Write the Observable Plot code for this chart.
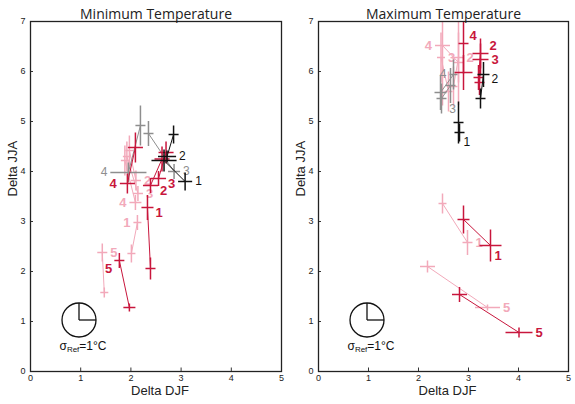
<!DOCTYPE html>
<html>
<head>
<meta charset="utf-8">
<script src="https://cdn.jsdelivr.net/npm/d3@7"></script>
<script src="https://cdn.jsdelivr.net/npm/@observablehq/plot@0.6"></script>
<style>
  body { margin: 0; background: #fff; }
  #wrap { position: relative; width: 575px; height: 404px; }
  #wrap svg { position: absolute; top: 0; }
</style>
</head>
<body>
<div id="wrap"></div>
<script>
// Axis ticks
const xTicks = [0, 1, 2, 3, 4, 5];
const yTicks = [0, 1, 2, 3, 4, 5, 6, 7];

// Each row: [region,
//   labelled end: DJF change, JJA change, DJF spread, JJA spread,
//   other end:    DJF change, JJA change, DJF spread, JJA spread]

// Minimum temperature
const tminPink = [
  [1, 2.13, 2.98, 0.08, 0.15, 2.01, 2.36, 0.08, 0.18],
  [2, 2.10, 3.82, 0.10, 0.20, 1.97, 4.42, 0.08, 0.30],
  [3, 2.14, 3.56, 0.10, 0.15, 1.92, 4.30, 0.08, 0.30],
  [4, 2.09, 3.38, 0.12, 0.15, 1.88, 4.22, 0.08, 0.30],
  [5, 1.43, 2.38, 0.10, 0.18, 1.47, 1.58, 0.08, 0.10]
];
const tminGray = [
  [3, 2.86, 4.00, 0.12, 0.15, 2.35, 4.76, 0.10, 0.25],
  [4, 1.95, 3.98, 0.36, 0.20, 2.19, 4.92, 0.10, 0.40]
];
const tminRed = [
  [1, 2.33, 3.28, 0.12, 0.25, 2.39, 2.06, 0.10, 0.22],
  [2, 2.39, 3.72, 0.15, 0.15, 2.62, 4.25, 0.15, 0.25],
  [3, 2.55, 3.86, 0.15, 0.15, 2.70, 4.38, 0.15, 0.22],
  [4, 1.93, 3.76, 0.15, 0.20, 2.09, 4.48, 0.15, 0.30],
  [5, 1.77, 2.22, 0.10, 0.15, 1.97, 1.28, 0.12, 0.08]
];
const tminBlack = [
  [1, 3.08, 3.80, 0.14, 0.18, 2.66, 4.22, 0.25, 0.22],
  [2, 2.72, 4.30, 0.18, 0.12, 2.85, 4.74, 0.10, 0.18]
];

// Maximum temperature
const tmaxPink = [
  [1, 2.98, 2.58, 0.10, 0.25, 2.48, 3.36, 0.08, 0.20],
  [2, 2.80, 6.28, 0.10, 0.50, 2.70, 5.70, 0.08, 0.40],
  [3, 2.45, 6.28, 0.08, 0.50, 2.60, 5.60, 0.08, 0.40],
  [4, 2.48, 6.52, 0.15, 1.20, 2.80, 6.18, 0.10, 0.85],
  [5, 3.38, 1.28, 0.25, 0.06, 2.18, 2.10, 0.15, 0.12]
];
const tmaxGray = [
  [3, 2.64, 5.72, 0.10, 0.35, 2.46, 5.46, 0.10, 0.30],
  [4, 2.70, 5.94, 0.08, 0.30, 2.44, 5.58, 0.12, 0.35]
];
const tmaxRed = [
  [1, 3.44, 2.52, 0.22, 0.32, 2.90, 3.04, 0.12, 0.28],
  [2, 3.24, 6.36, 0.16, 0.30, 3.20, 5.88, 0.10, 0.25],
  [3, 3.24, 6.24, 0.16, 0.32, 3.22, 5.78, 0.10, 0.25],
  [4, 2.90, 6.56, 0.10, 0.60, 2.90, 5.98, 0.18, 0.35],
  [5, 4.01, 0.78, 0.27, 0.10, 2.82, 1.54, 0.15, 0.15]
];
const tmaxBlack = [
  [1, 2.82, 4.78, 0.10, 0.18, 2.80, 4.98, 0.10, 0.42],
  [2, 3.30, 5.94, 0.12, 0.25, 3.24, 5.46, 0.10, 0.20]
];

const colors = { pink: "#f2a9ba", gray: "#8e8e8e", red: "#c8163c", black: "#111111" };
const weights = { pink: "bold", gray: "normal", red: "bold", black: "normal" };
const sizes = { pink: 13, gray: 12, red: 13, black: 12 };
const drawOrder = ["pink", "gray", "red", "black"];

// Where each region number sits relative to its labelled cross
const place = {
  right:     { x: r => r[1] + r[3], dx: 3,  dy: 0,  textAnchor: "start" },
  rightLow:  { x: r => r[1] + r[3], dx: 2,  dy: 5,  textAnchor: "start" },
  left:      { x: r => r[1] - r[3], dx: -3, dy: 0,  textAnchor: "end" },
  leftDown:  { x: r => r[1] - r[3], dx: -2, dy: 8,  textAnchor: "end" },
  upRight:   { x: r => r[1] + r[3], dx: 1,  dy: -8, textAnchor: "start" },
  downRight: { x: r => r[1],        dx: 4,  dy: 10, textAnchor: "start" },
  below:     { x: r => r[1], y: r => r[2] - r[4], dx: 2, dy: 6, textAnchor: "middle" }
};

function crosses(rows, color) {
  const ends = rows.flatMap(r => [
    { x: r[1], y: r[2], ex: r[3], ey: r[4] },
    { x: r[5], y: r[6], ex: r[7], ey: r[8] }
  ]);
  return [
    Plot.link(rows, { x1: r => r[1], y1: r => r[2], x2: r => r[5], y2: r => r[6], stroke: color, strokeWidth: 1, clip: "frame" }),
    Plot.link(ends, { x1: d => d.x - d.ex, x2: d => d.x + d.ex, y1: "y", y2: "y", stroke: color, strokeWidth: 1.5, clip: "frame" }),
    Plot.link(ends, { x1: "x", x2: "x", y1: d => d.y - d.ey, y2: d => d.y + d.ey, stroke: color, strokeWidth: 1.5, clip: "frame" })
  ];
}

function labels(rows, key, sides, fallback) {
  const groups = d3.group(rows, r => sides[r[0]] || fallback);
  return Array.from(groups, ([side, rs]) => {
    const p = place[side];
    return Plot.text(rs, {
      x: p.x, y: p.y || (r => r[2]), text: r => String(r[0]),
      dx: p.dx, dy: p.dy, textAnchor: p.textAnchor,
      fill: colors[key], fontWeight: weights[key], fontSize: sizes[key],
      fontFamily: "Liberation Sans, Arial, sans-serif"
    });
  });
}

function panel(title, sets, sides, fallbacks, marginLeft, marginRight) {
  const marks = [];
  for (const key of drawOrder) {
    marks.push(...crosses(sets[key], colors[key]));
    marks.push(...labels(sets[key], key, sides[key] || {}, fallbacks[key] || "right"));
  }
  const svg = Plot.plot({
    width: 287,
    height: 404,
    marginLeft, marginRight,
    marginTop: 21,
    marginBottom: 33,
    x: { domain: [0, 5] },
    y: { domain: [0, 7] },
    style: { fontFamily: "Liberation Sans, Arial, sans-serif", fontSize: "9px", background: "#fff", color: "#222" },
    marks: [
      Plot.ruleX(xTicks.slice(1, -1), { x: d => d, y1: 0, y2: 0.07, stroke: "#333" }),
      Plot.ruleY(yTicks.slice(1, -1), { y: d => d, x1: 0, x2: 0.06, stroke: "#333" }),
      ...marks,
      Plot.frame({ stroke: "#222", strokeWidth: 1.3 }),
      Plot.axisX(xTicks, { tickSize: 0, tickPadding: 3, label: null, tickFormat: d3.format("d") }),
      Plot.axisY(yTicks, { tickSize: 0, tickPadding: 5, label: null, tickFormat: d3.format("d") }),
      Plot.text([title], { frameAnchor: "top", dy: -12, fontSize: 14, fontFamily: "Open Sans, sans-serif", fill: "#222" }),
      Plot.text(["Delta DJF"], { frameAnchor: "bottom", dx: 4, dy: 23.5, fontSize: 13, fill: "#222" }),
      Plot.text(["Delta JJA"], { frameAnchor: "left", dx: -18, rotate: -90, fontSize: 13, fill: "#222" })
    ]
  });

  // Reference spread symbol: a clock face with the 1 °C spread drawn as its hands
  const cx = marginLeft + 49, cy = 320, r = 17;
  const g = d3.select(svg).append("g").attr("stroke", "#111").attr("fill", "none").attr("stroke-width", 1.3);
  g.append("circle").attr("cx", cx).attr("cy", cy).attr("r", r).attr("fill", "#fff");
  g.append("line").attr("x1", cx).attr("y1", cy).attr("x2", cx).attr("y2", cy - r);
  g.append("line").attr("x1", cx).attr("y1", cy).attr("x2", cx + r).attr("y2", cy);
  const t = d3.select(svg).append("text")
    .attr("x", cx + 4).attr("y", cy + 30)
    .attr("text-anchor", "middle")
    .attr("font-family", "Liberation Sans, Arial, sans-serif")
    .attr("font-size", 12).attr("fill", "#111");
  t.append("tspan").text("σ");
  t.append("tspan").attr("font-size", 8).attr("dy", 2).text("Ref");
  t.append("tspan").attr("dy", -2).text("=1°C");
  return svg;
}

const left = panel(
  "Minimum Temperature",
  { pink: tminPink, gray: tminGray, red: tminRed, black: tminBlack },
  { pink: { 1: "left", 4: "left" }, gray: { 4: "left" }, red: { 4: "left", 5: "leftDown" }, black: {} },
  { red: "rightLow" },
  30, 6
);
const right = panel(
  "Maximum Temperature",
  { pink: tmaxPink, gray: tmaxGray, red: tmaxRed, black: tmaxBlack },
  { pink: { 4: "left" }, gray: { 4: "left", 3: "below" }, red: { 2: "upRight", 3: "right", 4: "upRight", 1: "downRight" }, black: { 1: "downRight", 2: "rightLow" } },
  {},
  30, 7
);
left.style.left = "0px";
right.style.left = "288px";
document.getElementById("wrap").append(left, right);
</script>
</body>
</html>
